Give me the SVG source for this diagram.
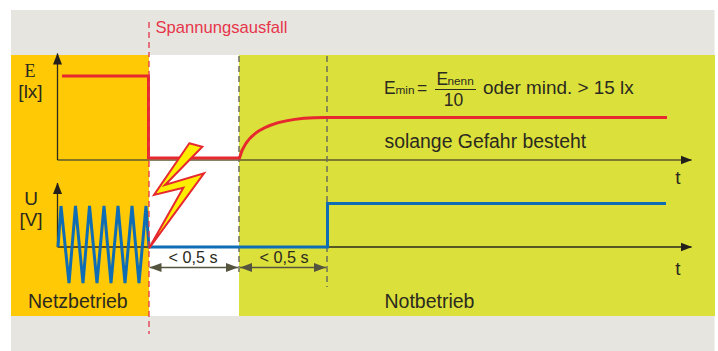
<svg xmlns="http://www.w3.org/2000/svg" width="718" height="351" viewBox="0 0 718 351">
<style>
text{font-family:"Liberation Sans",Arial,sans-serif;font-size:19px;fill:#2b2a20}
.serif{font-family:"Liberation Serif","Times New Roman",serif}
.axis{fill:none;stroke:#2b2a20;stroke-width:1.3}
.axis2{fill:none;stroke:#5c5a2c;stroke-width:1.6}
.red{fill:none;stroke:#e6282f;stroke-width:3}
.blue{fill:none;stroke:#0f6db5;stroke-width:3}
.dash{fill:none;stroke:#6e6e5c;stroke-width:1.5;stroke-dasharray:6 4}
.dim{fill:none;stroke:#55553f;stroke-width:1.5}
</style>
<defs>
<marker id="arr" markerUnits="userSpaceOnUse" markerWidth="12" markerHeight="10" refX="11" refY="5" orient="auto"><path d="M0 0.500L11.500 5L0 9.500Z" fill="#221f1c"/></marker>
<marker id="dimend" markerUnits="userSpaceOnUse" markerWidth="12" markerHeight="10" refX="12" refY="5" orient="auto-start-reverse"><path d="M0 0.500L12 5L0 9.500Z" fill="#55553f"/></marker>
</defs>
<g id="background">
<rect x="11" y="10" width="703.500" height="341" fill="#e6e5e0"/>
<rect x="11" y="55" width="138" height="261" fill="#ffc905"/>
<rect x="149" y="55" width="90" height="261" fill="#ffffff"/>
<rect x="239" y="55" width="476" height="261" fill="#dbe03a"/>
</g>
<g id="connectors">
<path class="axis2" d="M57.500 160H148"/>
<path class="axis2" d="M148 160H691.500" marker-end="url(#arr)"/>
<path class="axis" d="M57.500 160V53.500" marker-end="url(#arr)"/>
<path class="axis" d="M57.500 247V183" marker-end="url(#arr)"/>
<path class="axis" d="M57.500 247H691.500" marker-end="url(#arr)"/>
<path class="dash" d="M239 56V274"/>
<path class="dash" d="M327 56V287"/>
<path class="red" d="M62 76H148.500V158H239.500C244 140 258 117 327 117.500H667"/>
<path class="blue" d="M58 247L61 206L69 283L75.500 206L83 283L89.500 206L97 283L104 206L111 283L118 206L125 283L132 206L139 283L146 206L149 247H327.500V203.500H666"/>
<path d="M149 55V334" fill="none" stroke="#e6354a" stroke-width="1.300" stroke-dasharray="6 4" stroke-dashoffset="4"/>
<path d="M149 22V55" fill="none" stroke="#e6354a" stroke-width="1.300" stroke-dasharray="6 4"/>
<path class="dim" d="M149.500 267.500H238" marker-start="url(#dimend)" marker-end="url(#dimend)"/>
<path class="dim" d="M240 267.500H326" marker-start="url(#dimend)" marker-end="url(#dimend)"/>
</g>
<g id="lightning">
<path d="M189.300 143.300L202.300 146.700L165 185L204 173.300L149 248.300L183.300 187.700L154 195Z" fill="#ffed00" stroke="#e6282f" stroke-width="2" stroke-linejoin="miter"/>
</g>
<g id="labels">
<text x="155.500" y="33" style="fill:#e6354a;font-size:16.600px">Spannungsausfall</text>
<text class="serif" x="30" y="77" text-anchor="middle" style="font-size:18px">E</text>
<text x="30.500" y="98" text-anchor="middle" style="font-size:19px">[lx]</text>
<text x="31" y="205" text-anchor="middle" style="font-size:19px">U</text>
<text x="31" y="226" text-anchor="middle" style="font-size:19px">[V]</text>
<text x="28" y="307.500" style="font-size:19.500px">Netzbetrieb</text>
<text x="384.500" y="307.500" style="font-size:19.500px">Notbetrieb</text>
<text x="384" y="93.500" style="font-size:17.500px">E</text>
<text x="395.500" y="93.500" style="font-size:11.800px">min</text>
<text x="417" y="93.500" style="font-size:17.500px">=</text>
<text x="436.500" y="85" style="font-size:17.500px">E</text>
<text x="447.500" y="85" style="font-size:11.800px">nenn</text>
<path d="M435 89.500H476" fill="none" stroke="#2b2a20" stroke-width="1"/>
<text x="453.500" y="106" text-anchor="middle" style="font-size:17.500px">10</text>
<text x="483" y="94" style="font-size:18.900px">oder mind. &gt; 15 lx</text>
<text x="384.500" y="147.800" style="font-size:19.400px">solange Gefahr besteht</text>
<text x="678" y="184" text-anchor="middle" style="font-size:19px">t</text>
<text x="678" y="275" text-anchor="middle" style="font-size:19px">t</text>
<text x="193" y="263" text-anchor="middle" style="font-size:16.200px">&lt; 0,5 s</text>
<text x="284" y="263" text-anchor="middle" style="font-size:16.200px">&lt; 0,5 s</text>
</g>
</svg>
